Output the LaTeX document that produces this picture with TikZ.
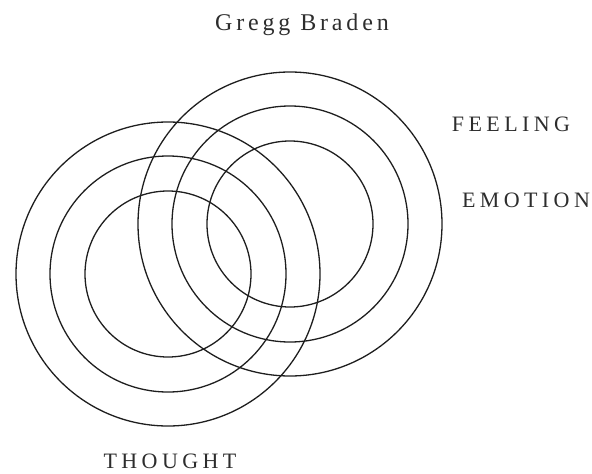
\documentclass[tikz,border=0pt]{standalone}
\usepackage{fontspec}
\setmainfont{Liberation Serif}
\usepackage{tikz}
\newfontfamily\ringfont[LetterSpace=20]{Liberation Serif}
\newfontfamily\titlefont[LetterSpace=16]{Liberation Serif}
\definecolor{RingGray}{RGB}{30,30,30}
\definecolor{LabelGray}{RGB}{45,45,45}

\tikzset{
    ring/.style={RingGray, line width=1.3pt},
    ringlabel/.style={LabelGray, inner sep=0pt, font=\ringfont\fontsize{22}{22}\selectfont},
    titlelabel/.style={LabelGray, inner sep=0pt, font=\titlefont\fontsize{24}{24}\selectfont}
}

\begin{document}
\begin{tikzpicture}[x=1pt, y=-1pt]
    \useasboundingbox (0,0) rectangle (592,474);
    \coordinate (thoughtc) at (168,274);
    \coordinate (feelingc) at (290,224);
    \foreach \r in {83,118,152} {
        \draw[ring] (thoughtc) circle (\r pt);
        \draw[ring] (feelingc) circle (\r pt);
    }
    \node[titlelabel, anchor=base] (title) at (302,30) {Gregg Braden};
    \node[ringlabel, anchor=base] (feeling) at (511,131) {FEELING};
    \node[ringlabel, anchor=base] (emotion) at (526,207) {EMOTION};
    \node[ringlabel, anchor=base] (thought) at (170,468) {THOUGHT};
\end{tikzpicture}
\end{document}
